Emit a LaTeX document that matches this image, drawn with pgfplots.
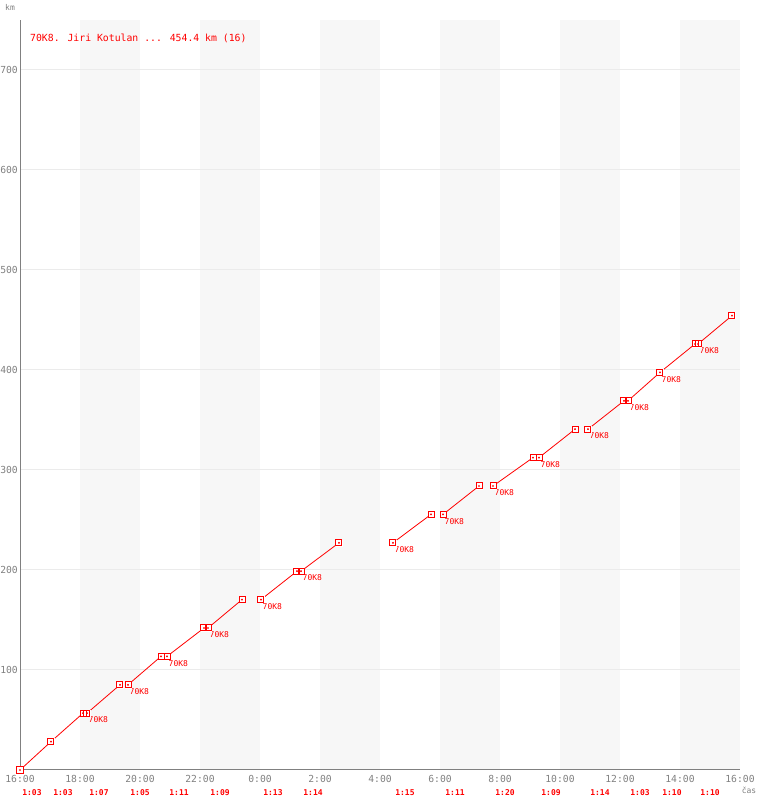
\documentclass[border=0pt]{standalone}
\usepackage{fontspec}
\setmainfont{DejaVu Sans Mono}
\usepackage{pgfplots}
\usepackage{pgfplotstable}
\pgfplotsset{compat=1.18}
\definecolor{tickgray}{HTML}{808080}
\definecolor{gridgray}{HTML}{EBEBEB}
\definecolor{bandgray}{HTML}{F7F7F7}
\definecolor{lapred}{HTML}{FF0000}
\pgfplotstableread{
x y
0 0
1.033 28.4
2.1 56.8
nan nan
2.233 56.8
3.333 85.2
nan nan
3.6 85.2
4.7 113.6
nan nan
4.9 113.6
6.133 142
nan nan
6.267 142
7.4 170.4
nan nan
8.033 170.4
9.233 198.8
nan nan
9.367 198.8
10.633 227.2
nan nan
12.433 227.2
13.7 255.6
nan nan
14.1 255.6
15.3 284
nan nan
15.767 284
17.1 312.4
nan nan
17.3 312.4
18.5 340.8
nan nan
18.933 340.8
20.133 369.2
nan nan
20.267 369.2
21.333 397.6
nan nan
21.333 397.6
22.5 426
nan nan
22.6 426
23.733 454.4
}\laps
\pgfplotstableread{
x y
0 0
1.033 28.4
2.1 56.8
2.233 56.8
3.333 85.2
3.6 85.2
4.7 113.6
4.9 113.6
6.133 142
6.267 142
7.4 170.4
8.033 170.4
9.233 198.8
9.367 198.8
10.633 227.2
12.433 227.2
13.7 255.6
14.1 255.6
15.3 284
15.767 284
17.1 312.4
17.3 312.4
18.5 340.8
18.933 340.8
20.133 369.2
20.267 369.2
21.333 397.6
22.5 426
22.6 426
23.733 454.4
}\lappoints
\begin{document}
\begin{tikzpicture}
\pgfplotsset{common/.style={at={(20bp,30bp)}, anchor=south west,
  scale only axis, width=720bp, height=750bp,
  xmin=0, xmax=24, ymin=0, ymax=750}}
\begin{axis}[common, hide axis]
\addplot[fill=bandgray, draw=none] coordinates {(2,0) (2,750) (4,750) (4,0)} -- cycle;
\addplot[fill=bandgray, draw=none] coordinates {(6,0) (6,750) (8,750) (8,0)} -- cycle;
\addplot[fill=bandgray, draw=none] coordinates {(10,0) (10,750) (12,750) (12,0)} -- cycle;
\addplot[fill=bandgray, draw=none] coordinates {(14,0) (14,750) (16,750) (16,0)} -- cycle;
\addplot[fill=bandgray, draw=none] coordinates {(18,0) (18,750) (20,750) (20,0)} -- cycle;
\addplot[fill=bandgray, draw=none] coordinates {(22,0) (22,750) (24,750) (24,0)} -- cycle;
\end{axis}
\begin{axis}[
  common,
  clip=false,
  axis x line*=bottom, axis y line*=left,
  axis line style={tickgray, line width=1bp, -},
  major tick length=0pt,
  ymajorgrids, grid style={gridgray, line width=1bp},
  xtick={0,2,4,6,8,10,12,14,16,18,20,22,24},
  xticklabels={16:00,18:00,20:00,22:00,0:00,2:00,4:00,6:00,8:00,10:00,12:00,14:00,16:00},
  ytick={100,200,300,400,500,600,700},
  /pgf/number format/assume math mode=true,
  xticklabel style={font=\fontsize{9.7bp}{11bp}\selectfont, text=tickgray, inner sep=0pt, anchor=north, yshift=-5bp},
  yticklabel style={font=\fontsize{9.7bp}{11bp}\selectfont, text=tickgray, inner sep=0pt, anchor=east, xshift=-2bp},
  unbounded coords=jump,
]
\addplot[color=lapred, line width=0.8bp, no markers] table[x=x, y=y] {\laps};
\addplot[white, only marks, mark=square*, mark size=3bp, mark options={draw=none, fill=white}] table[x=x, y=y] {\lappoints};
\addplot[lapred, only marks, mark=square, mark size=3bp, mark options={line width=1bp}] table[x=x, y=y] {\lappoints};
\addplot[lapred, only marks, mark=*, mark size=0.7bp, mark options={draw=none}] table[x=x, y=y] {\lappoints};
% rider labels
\tikzset{rl/.style={anchor=north west, inner sep=0pt, text=lapred, font=\fontsize{8bp}{9bp}\selectfont, xshift=1.5bp, yshift=-3.5bp}}
\node[rl] at (axis cs:2.233,56.8) {70K8};
\node[rl] at (axis cs:3.6,85.2) {70K8};
\node[rl] at (axis cs:4.9,113.6) {70K8};
\node[rl] at (axis cs:6.267,142) {70K8};
\node[rl] at (axis cs:8.033,170.4) {70K8};
\node[rl] at (axis cs:9.367,198.8) {70K8};
\node[rl] at (axis cs:12.433,227.2) {70K8};
\node[rl] at (axis cs:14.1,255.6) {70K8};
\node[rl] at (axis cs:15.767,284) {70K8};
\node[rl] at (axis cs:17.3,312.4) {70K8};
\node[rl] at (axis cs:18.933,340.8) {70K8};
\node[rl] at (axis cs:20.267,369.2) {70K8};
\node[rl] at (axis cs:21.333,397.6) {70K8};
\node[rl] at (axis cs:22.6,426) {70K8};
% lap durations
\tikzset{du/.style={anchor=center, inner sep=0pt, text=lapred, font=\bfseries\fontsize{8bp}{9bp}\selectfont, yshift=-23bp}}
\node[du] at (axis cs:0.4,0) {1:03};
\node[du] at (axis cs:1.433,0) {1:03};
\node[du] at (axis cs:2.633,0) {1:07};
\node[du] at (axis cs:4.0,0) {1:05};
\node[du] at (axis cs:5.3,0) {1:11};
\node[du] at (axis cs:6.667,0) {1:09};
\node[du] at (axis cs:8.433,0) {1:13};
\node[du] at (axis cs:9.767,0) {1:14};
\node[du] at (axis cs:12.833,0) {1:15};
\node[du] at (axis cs:14.5,0) {1:11};
\node[du] at (axis cs:16.167,0) {1:20};
\node[du] at (axis cs:17.7,0) {1:09};
\node[du] at (axis cs:19.333,0) {1:14};
\node[du] at (axis cs:20.667,0) {1:03};
\node[du] at (axis cs:21.733,0) {1:10};
\node[du] at (axis cs:23.0,0) {1:10};
\end{axis}
\node[anchor=west, inner sep=0pt, text=lapred, font=\fontsize{9.8bp}{12bp}\selectfont] at (30bp,762bp) {70K8. Jiri Kotulan ... 454.4 km (16)};
\node[anchor=center, inner sep=0pt, text=tickgray, font=\fontsize{8bp}{9bp}\selectfont] at (10bp,793bp) {km};
\node[anchor=center, inner sep=0pt, text=tickgray, font=\fontsize{8bp}{9bp}\selectfont] at (749bp,10bp) {čas};
\path (0,0) rectangle (760bp,800bp);
\end{tikzpicture}
\end{document}
